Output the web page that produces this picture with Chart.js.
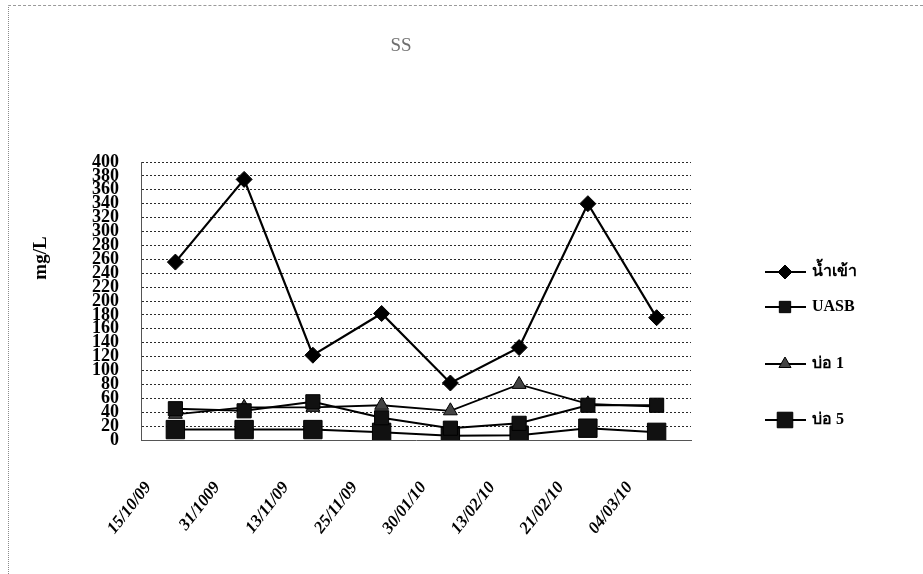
<!DOCTYPE html>
<html>
<head>
<meta charset="utf-8">
<script src="https://cdn.jsdelivr.net/npm/chart.js@4.4.0/dist/chart.umd.min.js"></script>
<style>
  html, body { margin: 0; padding: 0; background: #fff; }
  #wrap { position: relative; width: 923px; height: 574px; }
  #frame { position: absolute; left: 8px; top: 5px; right: 0; bottom: 0;
           border-top: 1px dashed #9a9a9a; border-left: 1px dotted #8a8a8a; pointer-events: none; }
  canvas { position: absolute; left: 0; top: 0; }
</style>
</head>
<body>
<div id="wrap">
  <canvas id="c" width="923" height="574"></canvas>
  <div id="frame"></div>
</div>
<script>
// Sampling dates
const dates = ['15/10/09', '31/1009', '13/11/09', '25/11/09', '30/01/10', '13/02/10', '21/02/10', '04/03/10'];

// Suspended solids (mg/L) per sampling point
const inflow = [256, 375, 122, 182, 82, 133, 340, 176];   // น้ำเข้า
const uasb   = [45, 42, 55, 32, 17, 24, 50, 50];          // UASB
const pond1  = [37, 47, 47, 50, 42, 80, 52, 48];          // บ่อ 1
const pond5  = [15, 15, 15, 11, 6, 7, 17, 11];            // บ่อ 5

const seriesNames = ['น้ำเข้า', 'UASB', 'บ่อ 1', 'บ่อ 5'];
const chartTitle = 'SS';
const yTitle = 'mg/L';

const SERIF = '"Liberation Serif", "DejaVu Serif", "Times New Roman", serif';

const styles = [
  { pointStyle: 'rectRot',  pointRadius: 8,  legendRadius: 7,  backgroundColor: '#000', borderWidth: 2.2 },
  { pointStyle: 'rect',     pointRadius: 10, legendRadius: 8,  backgroundColor: '#111', borderWidth: 2 },
  { pointStyle: 'triangle', pointRadius: 8,  legendRadius: 7,  backgroundColor: '#444', borderWidth: 1.8 },
  { pointStyle: 'rect',     pointRadius: 13, legendRadius: 11, backgroundColor: '#111', borderWidth: 2 }
];
const values = [inflow, uasb, pond1, pond5];

const datasets = values.map((v, i) => ({
  label: seriesNames[i],
  data: v,
  borderColor: '#000',
  backgroundColor: styles[i].backgroundColor,
  pointBackgroundColor: styles[i].backgroundColor,
  pointBorderColor: '#000',
  pointBorderWidth: 1,
  pointStyle: styles[i].pointStyle,
  pointRadius: styles[i].pointRadius,
  borderWidth: styles[i].borderWidth,
  tension: 0,
  fill: false
}));

// Title, vertical axis caption and the side legend
const annotations = {
  id: 'annotations',
  afterDraw(chart) {
    const ctx = chart.ctx;
    ctx.save();
    ctx.fillStyle = '#6f6f6f';
    ctx.font = '19px ' + SERIF;
    ctx.textAlign = 'center';
    ctx.textBaseline = 'middle';
    ctx.fillText(chartTitle, 401, 46);

    ctx.fillStyle = '#000';
    ctx.font = 'bold 19px ' + SERIF;
    ctx.translate(41, 258);
    ctx.rotate(-Math.PI / 2);
    ctx.fillText(yTitle, 0, 0);
    ctx.restore();

    const rows = [272, 307, 364, 420];
    chart.data.datasets.forEach((ds, i) => {
      const y = rows[i];
      ctx.save();
      ctx.strokeStyle = '#000';
      ctx.lineWidth = 2.2;
      ctx.beginPath();
      ctx.moveTo(765, y);
      ctx.lineTo(806, y);
      ctx.stroke();
      ctx.fillStyle = ds.pointBackgroundColor;
      ctx.strokeStyle = '#000';
      ctx.lineWidth = 1;
      Chart.helpers.drawPoint(ctx, { pointStyle: ds.pointStyle, radius: styles[i].legendRadius, borderWidth: 1, rotation: 0 }, 785, y);
      ctx.fillStyle = '#000';
      ctx.font = 'bold 16px ' + SERIF;
      ctx.textAlign = 'left';
      ctx.textBaseline = 'middle';
      ctx.fillText(ds.label, 812, y);
      ctx.restore();
    });
  }
};

new Chart(document.getElementById('c'), {
  type: 'line',
  data: { labels: dates, datasets },
  plugins: [annotations],
  options: {
    responsive: false,
    animation: false,
    layout: { padding: { top: 162, right: 232, bottom: 0, left: 0 } },
    plugins: {
      legend: { display: false },
      title: { display: false },
      tooltip: { enabled: false }
    },
    scales: {
      x: {
        offset: true,
        grid: { display: false, drawTicks: false },
        border: { display: true, color: '#555', width: 1, dash: [2, 2] },
        afterFit(scale) { scale.height = 134; },
        ticks: {
          autoSkip: false,
          minRotation: 52,
          maxRotation: 52,
          padding: 38,
          labelOffset: -27,
          color: '#000',
          font: { family: SERIF, size: 17, weight: 'bold', style: 'italic' }
        }
      },
      y: {
        min: 0,
        max: 400,
        afterFit(scale) { scale.width = 141; },
        grid: { color: '#2a2a2a', lineWidth: 1, drawTicks: false },
        border: { display: true, color: '#555', width: 1, dash: [2, 2] },
        ticks: {
          stepSize: 20,
          autoSkip: false,
          padding: 22,
          color: '#000',
          font: { family: SERIF, size: 18, weight: 'bold', lineHeight: 0.8 }
        }
      }
    }
  }
});
</script>
</body>
</html>
